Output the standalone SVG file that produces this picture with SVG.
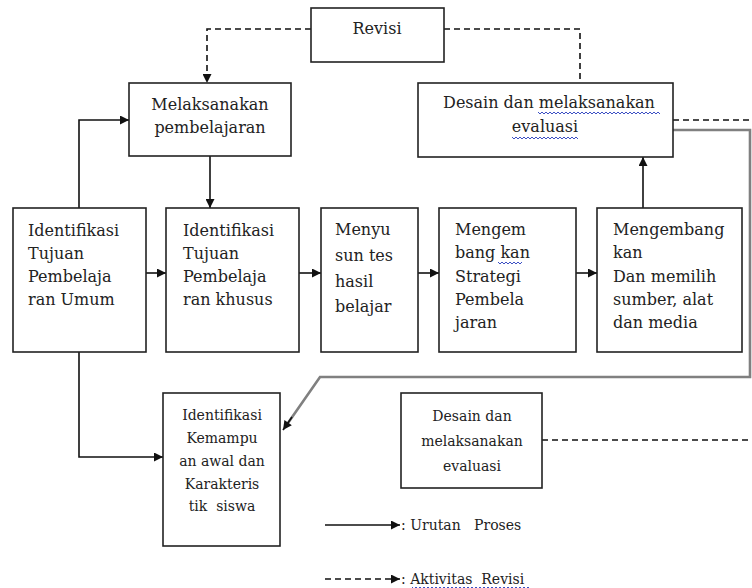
<svg xmlns="http://www.w3.org/2000/svg" width="752" height="588" viewBox="0 0 752 588">
<style>
.box{fill:#fff;stroke:#222;stroke-width:1.6}
.t{font-family:"DejaVu Serif","Liberation Serif",serif;font-size:16px;fill:#222}
.s{font-size:14px}
.c{text-anchor:middle}
.ln{fill:none;stroke:#111;stroke-width:1.6}
.ds{fill:none;stroke:#111;stroke-width:1.6;stroke-dasharray:6 4}
.gr{fill:none;stroke:#808080;stroke-width:2.6}
.sq{fill:none;stroke:#3b4fc4;stroke-width:1}
</style>
<defs>
<marker id="arr" viewBox="0 0 10 10" refX="10" refY="5" markerWidth="10" markerHeight="9" orient="auto" markerUnits="userSpaceOnUse"><path d="M0,0 L10,5 L0,10 z" fill="#111"/></marker>
</defs>
<g id="connectors">
<path class="ds" d="M311,29 H207 V83" marker-end="url(#arr)"/>
<path class="ds" d="M444,29 H580 V83"/>
<path class="ln" d="M79,208 V120 H129" marker-end="url(#arr)"/>
<path class="ln" d="M210,156 V208" marker-end="url(#arr)"/>
<path class="ln" d="M146,273 H166" marker-end="url(#arr)"/>
<path class="ln" d="M299,273 H321" marker-end="url(#arr)"/>
<path class="ln" d="M418,273 H439" marker-end="url(#arr)"/>
<path class="ln" d="M576,273 H597" marker-end="url(#arr)"/>
<path class="ln" d="M643,208 V157" marker-end="url(#arr)"/>
<path class="ln" d="M79,352 V457 H163" marker-end="url(#arr)"/>
<path class="ds" d="M673,120 H752"/>
<path class="gr" d="M673,130 H750 V377 H320 L288,423"/>
<path class="ln" d="M292,417 L283,430" marker-end="url(#arr)"/>
<path class="ds" d="M542,440 H752"/>
<path class="ln" d="M325,525 H400" marker-end="url(#arr)"/>
<path class="ds" d="M325,579 H400" marker-end="url(#arr)"/>
</g>
<g id="revisi">
<rect class="box" x="311" y="8" width="133" height="54"/>
<text class="t c" x="377" y="34">Revisi</text>
</g>
<g id="melaksanakan">
<rect class="box" x="129" y="83" width="162" height="73"/>
<text class="t c" x="210" y="110">Melaksanakan</text>
<text class="t c" x="210" y="133">pembelajaran</text>
</g>
<g id="desain-top">
<rect class="box" x="418" y="83" width="255" height="74"/>
<text class="t c" x="549" y="108">Desain dan melaksanakan</text>
<text class="t c" x="545" y="132">evaluasi</text>
<path class="sq" d="M538,112 l2,2 l2,-2 l2,2 l2,-2 l2,2 l2,-2 l2,2 l2,-2 l2,2 l2,-2 l2,2 l2,-2 l2,2 l2,-2 l2,2 l2,-2 l2,2 l2,-2 l2,2 l2,-2 l2,2 l2,-2 l2,2 l2,-2 l2,2 l2,-2 l2,2 l2,-2 l2,2 l2,-2 l2,2 l2,-2 l2,2 l2,-2 l2,2 l2,-2 l2,2 l2,-2 l2,2 l2,-2 l2,2 l2,-2 l2,2 l2,-2 l2,2 l2,-2 l2,2 l2,-2 l2,2 l2,-2 l2,2 l2,-2 l2,2 l2,-2 l2,2 l2,-2 l2,2 l2,-2 l2,2 l2,-2 l2,2"/>
<path class="sq" d="M512,137 l2,2 l2,-2 l2,2 l2,-2 l2,2 l2,-2 l2,2 l2,-2 l2,2 l2,-2 l2,2 l2,-2 l2,2 l2,-2 l2,2 l2,-2 l2,2 l2,-2 l2,2 l2,-2 l2,2 l2,-2 l2,2 l2,-2 l2,2 l2,-2 l2,2 l2,-2 l2,2 l2,-2 l2,2 l2,-2 l2,2"/>
</g>
<g id="tpu">
<rect class="box" x="13" y="208" width="133" height="144"/>
<text class="t" x="28" y="236">Identifikasi</text>
<text class="t" x="28" y="259">Tujuan</text>
<text class="t" x="28" y="282">Pembelaja</text>
<text class="t" x="28" y="305">ran Umum</text>
</g>
<g id="tpk">
<rect class="box" x="166" y="208" width="133" height="144"/>
<text class="t" x="183" y="236">Identifikasi</text>
<text class="t" x="183" y="259">Tujuan</text>
<text class="t" x="183" y="282">Pembelaja</text>
<text class="t" x="183" y="305">ran khusus</text>
</g>
<g id="tes">
<rect class="box" x="321" y="208" width="97" height="144"/>
<text class="t" x="335" y="235">Menyu</text>
<text class="t" x="335" y="261">sun tes</text>
<text class="t" x="335" y="287">hasil</text>
<text class="t" x="335" y="312">belajar</text>
</g>
<g id="strategi">
<rect class="box" x="439" y="208" width="137" height="144"/>
<text class="t" x="455" y="235">Mengem</text>
<text class="t" x="455" y="258">bang kan</text>
<text class="t" x="455" y="282">Strategi</text>
<text class="t" x="455" y="305">Pembela</text>
<text class="t" x="455" y="328">jaran</text>
<path class="sq" d="M498,262 l2,2 l2,-2 l2,2 l2,-2 l2,2 l2,-2 l2,2 l2,-2 l2,2 l2,-2 l2,2 l2,-2"/>
</g>
<g id="media">
<rect class="box" x="597" y="208" width="145" height="144"/>
<text class="t" x="613" y="235">Mengembang</text>
<text class="t" x="613" y="258">kan</text>
<text class="t" x="613" y="282">Dan memilih</text>
<text class="t" x="613" y="305">sumber, alat</text>
<text class="t" x="613" y="328">dan media</text>
</g>
<g id="kemampuan">
<rect class="box" x="163" y="393" width="117" height="153"/>
<text class="t s c" x="222" y="420">Identifikasi</text>
<text class="t s c" x="222" y="443">Kemampu</text>
<text class="t s c" x="222" y="466">an awal dan</text>
<text class="t s c" x="222" y="489">Karakteris</text>
<text class="t s c" x="222" y="511" xml:space="preserve">tik  siswa</text>
</g>
<g id="desain-bottom">
<rect class="box" x="401" y="393" width="141" height="95"/>
<text class="t s c" x="472" y="421">Desain dan</text>
<text class="t s c" x="472" y="446">melaksanakan</text>
<text class="t s c" x="472" y="471">evaluasi</text>
</g>
<g id="legend">
<text class="t s" x="401" y="530" xml:space="preserve">: Urutan   Proses</text>
<text class="t s" x="401" y="584" xml:space="preserve">: Aktivitas  Revisi</text>
<path class="sq" d="M412,587 l2,2 l2,-2 l2,2 l2,-2 l2,2 l2,-2 l2,2 l2,-2 l2,2 l2,-2 l2,2 l2,-2 l2,2 l2,-2 l2,2 l2,-2 l2,2 l2,-2 l2,2 l2,-2 l2,2 l2,-2 l2,2 l2,-2 l2,2 l2,-2 l2,2 l2,-2 l2,2 l2,-2 l2,2 l2,-2 l2,2 l2,-2 l2,2 l2,-2 l2,2 l2,-2 l2,2 l2,-2 l2,2 l2,-2 l2,2 l2,-2 l2,2 l2,-2 l2,2 l2,-2 l2,2 l2,-2 l2,2 l2,-2 l2,2 l2,-2 l2,2 l2,-2 l2,2 l2,-2 l2,2"/>
</g>
</svg>
